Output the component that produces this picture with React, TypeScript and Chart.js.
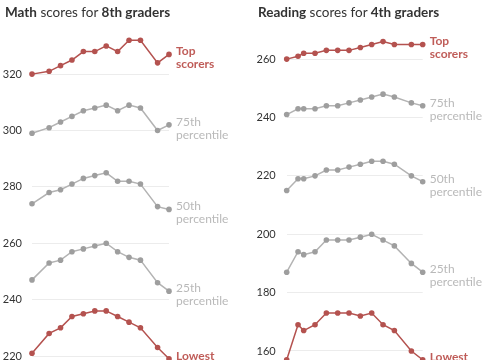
import React, { useEffect, useRef } from "react";
import { Chart, registerables } from "chart.js";
Chart.register(...registerables);

const mathYears = [2000, 2003, 2005, 2007, 2009, 2011, 2013, 2015, 2017, 2019, 2022, 2024];
const mathTop = [320, 321, 323, 325, 328, 328, 330, 328, 332, 332, 324, 327];
const math75 = [299, 301, 303, 305, 307, 308, 309, 307, 309, 308, 300, 302];
const math50 = [274, 278, 279, 281, 283, 284, 285, 282, 282, 281, 273, 272];
const math25 = [247, 253, 254, 257, 258, 259, 260, 257, 255, 254, 246, 243];
const mathLow = [221, 228, 230, 234, 235, 236, 236, 234, 232, 230, 223, 219];
const mathTicks = [220, 240, 260, 280, 300, 320];

const readYears = [2000, 2002, 2003, 2005, 2007, 2009, 2011, 2013, 2015, 2017, 2019, 2022, 2024];
const readTop = [260, 261, 262, 262, 263, 263, 263, 264, 265, 266, 265, 265, 265];
const read75 = [241, 243, 243, 243, 244, 244, 245, 246, 247, 248, 247, 245, 244];
const read50 = [215, 219, 219, 220, 222, 222, 223, 224, 225, 225, 224, 220, 218];
const read25 = [187, 194, 193, 194, 198, 198, 198, 199, 200, 198, 196, 190, 187];
const readLow = [157, 169, 167, 169, 173, 173, 173, 172, 173, 169, 167, 160, 157];
const readTicks = [160, 180, 200, 220, 240, 260];

const seriesLabels = [
  ["Top", "scorers"],
  ["75th", "percentile"],
  ["50th", "percentile"],
  ["25th", "percentile"],
  ["Lowest", "performers"],
];
const highlighted = [true, false, false, false, true];

const RED = "#b4524f";
const RED_TEXT = "#bf5c58";
const GRAY_LINE = "#b3b3b3";
const GRAY_POINT = "#9e9e9e";
const GRAY_TEXT = "#b9b9b9";
const FONT = "Lato, 'Open Sans', sans-serif";

type PanelProps = {
  years: number[];
  series: number[][];
  ticks: number[];
  yMin: number;
  yMax: number;
  padLeft: number;
  padRight: number;
  tickPad: number;
  width: number;
};

const endLabels = {
  id: "endLabels",
  afterDatasetsDraw(chart: any) {
    const ctx = chart.ctx;
    ctx.save();
    chart.data.datasets.forEach((ds: any, i: number) => {
      const meta = chart.getDatasetMeta(i);
      const pt = meta.data[meta.data.length - 1];
      if (!pt) return;
      const hl = highlighted[i];
      ctx.font = `${hl ? "bold" : "normal"} 12px ${FONT}`;
      ctx.fillStyle = hl ? RED_TEXT : GRAY_TEXT;
      ctx.textAlign = "left";
      ctx.textBaseline = "middle";
      const lines = seriesLabels[i];
      lines.forEach((t, j) => {
        ctx.fillText(t, pt.x + 7, pt.y - 3 + j * 13);
      });
    });
    ctx.restore();
  },
};

const tickLabels = {
  id: "tickLabels",
  afterDraw(chart: any) {
    const ctx = chart.ctx;
    const y = chart.scales.y;
    const pad = chart.options.plugins.tickLabels.pad;
    ctx.save();
    ctx.font = `11px ${FONT}`;
    ctx.fillStyle = "#333";
    ctx.textAlign = "right";
    ctx.textBaseline = "middle";
    y.ticks.forEach((t: any) => {
      ctx.fillText(String(t.value), chart.chartArea.left - pad, y.getPixelForValue(t.value));
    });
    ctx.restore();
  },
};

function Panel(props: PanelProps) {
  const ref = useRef<HTMLCanvasElement | null>(null);
  useEffect(() => {
    if (!ref.current) return;
    const datasets = props.series.map((vals, i) => {
      const hl = highlighted[i];
      return {
        data: vals.map((v, k) => ({ x: props.years[k], y: v })),
        borderColor: hl ? RED : GRAY_LINE,
        backgroundColor: hl ? RED : GRAY_POINT,
        pointBackgroundColor: hl ? RED : GRAY_POINT,
        pointBorderWidth: 0,
        pointRadius: 2.8,
        borderWidth: 1.5,
        clip: false as any,
        tension: 0,
      };
    });
    const chart = new Chart(ref.current, {
      type: "line",
      data: { datasets },
      options: {
        animation: false,
        responsive: false,
        maintainAspectRatio: false,
        layout: { padding: { left: props.padLeft + 28, right: props.padRight, top: 20, bottom: 0 } },
        plugins: {
          legend: { display: false },
          tooltip: { enabled: false },
          title: { display: false },
          tickLabels: { pad: props.tickPad },
        } as any,
        scales: {
          x: { type: "linear", min: 2000, max: 2024, display: false },
          y: {
            type: "linear",
            min: props.yMin,
            max: props.yMax,
            afterBuildTicks: (s: any) => {
              s.ticks = props.ticks.map((v) => ({ value: v }));
            },
            ticks: { display: false },
            grid: { color: "#ececec", drawTicks: false, lineWidth: 1 },
            border: { display: false },
          },
        },
      },
      plugins: [endLabels, tickLabels],
    });
    return () => chart.destroy();
  }, []);
  return <canvas ref={ref} width={props.width} height={360} style={{ display: "block", width: props.width, height: 360 }} />;
}

export default function App() {
  const titleStyle: React.CSSProperties = {
    position: "absolute",
    top: 3,
    fontFamily: FONT,
    fontSize: 13.5,
    lineHeight: "18px",
    color: "#333",
    whiteSpace: "nowrap",
  };
  return (
    <div style={{ position: "fixed", left: 0, top: 0, width: 485, height: 360, background: "#fff", overflow: "hidden" }}>
      <div style={{ position: "absolute", left: 0, top: 0 }}>
        <Panel
          years={mathYears}
          series={[mathTop, math75, math50, math25, mathLow]}
          ticks={mathTicks}
          yMin={220}
          yMax={339.2}
          padLeft={4}
          padRight={73}
          tickPad={10}
          width={242}
        />
      </div>
      <div style={{ position: "absolute", left: 242, top: 0 }}>
        <Panel
          years={readYears}
          series={[readTop, read75, read50, read25, readLow]}
          ticks={readTicks}
          yMin={158.28}
          yMax={273.4}
          padLeft={16.7}
          padRight={62.3}
          tickPad={11}
          width={243}
        />
      </div>
      <div style={{ ...titleStyle, left: 5 }}>
        <b>Math</b> scores for <b>8th graders</b>
      </div>
      <div style={{ ...titleStyle, left: 258 }}>
        <b>Reading</b> scores for <b>4th graders</b>
      </div>
    </div>
  );
}
